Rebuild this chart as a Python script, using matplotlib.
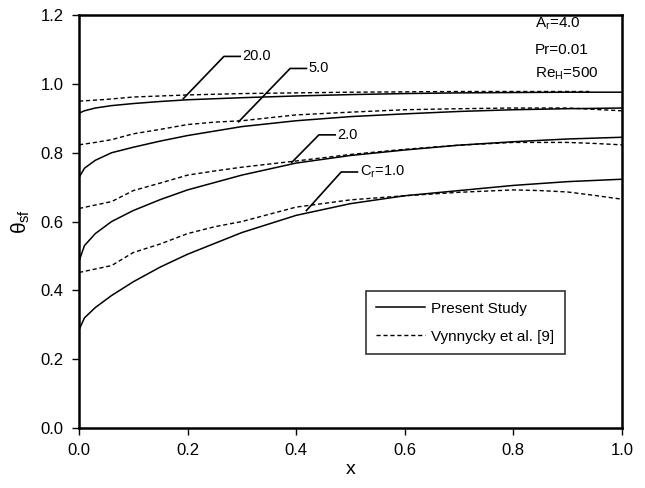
# Solid-fluid interface temperature along x for several conductivity ratios
import numpy as np
import matplotlib.pyplot as plt

plt.rcParams['font.family'] = ['Liberation Sans Narrow', 'Liberation Sans', 'DejaVu Sans']
plt.rcParams['mathtext.fontset'] = 'custom'
plt.rcParams['mathtext.rm'] = 'Liberation Sans'
plt.rcParams['mathtext.it'] = 'Liberation Sans'

# present study
x_present = [0, 0.01, 0.03, 0.06, 0.1, 0.15, 0.2, 0.3, 0.4, 0.5, 0.6, 0.7, 0.8, 0.9, 1.0]
present_cr20 = [0.915, 0.922, 0.930, 0.937, 0.943, 0.949, 0.954, 0.960, 0.965, 0.969, 0.972, 0.974, 0.975, 0.976, 0.976]
present_cr5 = [0.728, 0.755, 0.778, 0.800, 0.816, 0.834, 0.850, 0.876, 0.893, 0.905, 0.913, 0.920, 0.925, 0.928, 0.930]
present_cr2 = [0.485, 0.530, 0.565, 0.600, 0.632, 0.664, 0.692, 0.735, 0.770, 0.792, 0.808, 0.822, 0.832, 0.840, 0.845]
present_cr1 = [0.285, 0.320, 0.350, 0.385, 0.425, 0.468, 0.505, 0.568, 0.618, 0.652, 0.675, 0.690, 0.705, 0.716, 0.723]

# Vynnycky et al. [9]
x_ref20 = [0, 0.05, 0.1, 0.15, 0.2, 0.3, 0.4, 0.5, 0.6, 0.7, 0.8, 0.94]
ref_cr20 = [0.950, 0.955, 0.962, 0.965, 0.968, 0.972, 0.974, 0.976, 0.977, 0.978, 0.978, 0.978]
x_ref = [0, 0.03, 0.06, 0.1, 0.15, 0.2, 0.25, 0.3, 0.4, 0.5, 0.6, 0.7, 0.8, 0.85, 0.9, 0.95, 1.0]
ref_cr5 = [0.823, 0.830, 0.838, 0.855, 0.868, 0.882, 0.889, 0.893, 0.910, 0.918, 0.925, 0.928, 0.930, 0.930, 0.930, 0.926, 0.922]
ref_cr2 = [0.638, 0.648, 0.658, 0.690, 0.712, 0.735, 0.747, 0.758, 0.776, 0.795, 0.810, 0.822, 0.830, 0.830, 0.830, 0.827, 0.823]
ref_cr1 = [0.452, 0.462, 0.472, 0.510, 0.535, 0.565, 0.585, 0.600, 0.642, 0.663, 0.675, 0.685, 0.692, 0.690, 0.686, 0.676, 0.665]

fig = plt.figure(figsize=(6.45, 4.88), dpi=100)
ax = fig.add_axes([0.1225, 0.123, 0.8415, 0.846])

dash = (0, (3, 2))
ax.plot(x_present, present_cr20, color='black', lw=1.1)
ax.plot(x_present, present_cr5, color='black', lw=1.1)
ax.plot(x_present, present_cr2, color='black', lw=1.1)
ax.plot(x_present, present_cr1, color='black', lw=1.1, label='Present Study')
ax.plot(x_ref20, ref_cr20, color='black', lw=1.0, ls=dash)
ax.plot(x_ref, ref_cr5, color='black', lw=1.0, ls=dash)
ax.plot(x_ref, ref_cr2, color='black', lw=1.0, ls=dash)
ax.plot(x_ref, ref_cr1, color='black', lw=1.0, ls=dash, label='Vynnycky et al. [9]')

# curve labels with leader lines
labels = ['20.0', '5.0', '2.0', r'C$_\mathrm{r}$=1.0']
tips = [(0.192, 0.957), (0.294, 0.890), (0.392, 0.772), (0.419, 0.632)]
elbows = [(0.267, 1.08), (0.389, 1.045), (0.442, 0.852), (0.483, 0.744)]
for lab, (xt, yt), (xe, ye) in zip(labels, tips, elbows):
    ax.plot([xt, xe, xe + 0.03], [yt, ye, ye], color='black', lw=1.2)
    ax.text(xe + 0.034, ye, lab, fontsize=10.5, va='center', ha='left')

ax.text(0.84, 1.174, r'A$_\mathrm{r}$=4.0', fontsize=11, va='center')
ax.text(0.84, 1.100, 'Pr=0.01', fontsize=11, va='center')
ax.text(0.84, 1.029, r'Re$_\mathrm{H}$=500', fontsize=11, va='center')

ax.set_xlim(0, 1.0)
ax.set_ylim(0, 1.2)
ax.set_xticks(np.arange(0, 1.01, 0.2))
ax.set_yticks(np.arange(0, 1.21, 0.2))
ax.xaxis.set_major_formatter(plt.FormatStrFormatter('%.1f'))
ax.yaxis.set_major_formatter(plt.FormatStrFormatter('%.1f'))
ax.tick_params(direction='out', length=5, width=1, labelsize=12, pad=6)
for s in ax.spines.values():
    s.set_linewidth(1.8)

ax.set_xlabel('x', fontsize=14, labelpad=2)
ax.set_ylabel(r'$\theta_\mathrm{sf}$', fontsize=15, labelpad=6)

leg = ax.legend(loc='upper left', bbox_to_anchor=(0.514, 0.35), fontsize=11,
                frameon=True, fancybox=False, edgecolor='black', handlelength=3.2,
                borderpad=0.7, labelspacing=0.9, handletextpad=0.4)
leg.get_frame().set_linewidth(1.2)

fig.savefig('out.png', dpi=100)
